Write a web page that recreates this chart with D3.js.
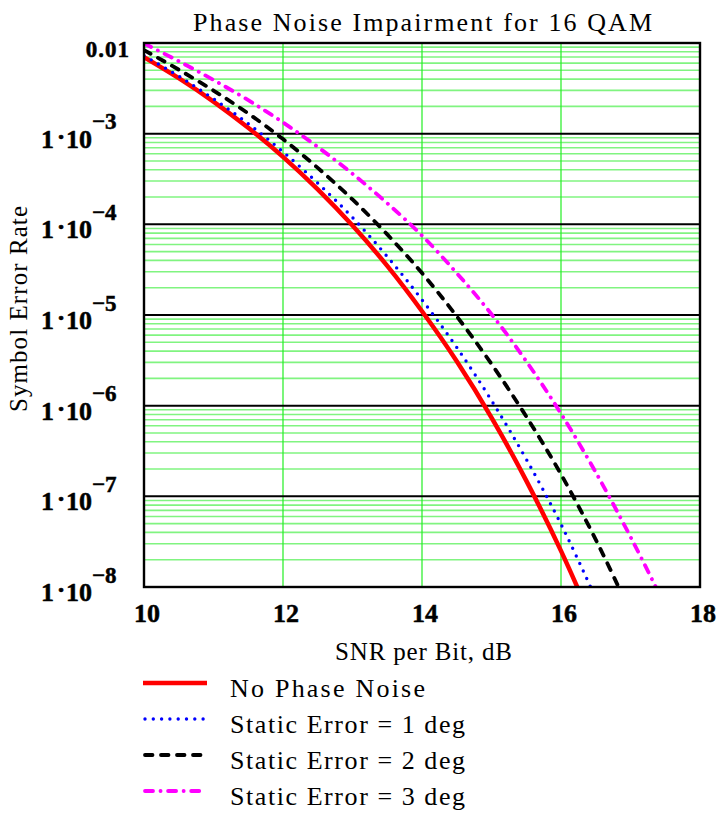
<!DOCTYPE html>
<html>
<head>
<meta charset="utf-8">
<script src="https://cdn.jsdelivr.net/npm/d3@7"></script>
<style>
  body { margin: 0; background: #fff; }
  svg { display: block; }
  text { font-family: "Liberation Serif", "Times New Roman", Times, serif; fill: #000; }
</style>
</head>
<body>
<svg id="chart" width="722" height="814" font-family="Liberation Serif"></svg>
<script>
// SNR per bit (dB) sample points
const snrDb = [10, 10.5, 11, 11.5, 12, 12.5, 13, 13.5, 14, 14.5, 15, 15.5, 16, 16.5, 17, 17.5];

// Symbol error rate for 16 QAM, one array per phase condition
const serNoNoise = [7.0e-3, 4.1e-3, 2.26e-3, 1.16e-3, 5.55e-4, 2.43e-4, 9.7e-5, 3.48e-5, 1.10e-5, 3.09e-6, 7.4e-7, 1.49e-7, 2.5e-8, 3.4e-9];
const serStatic1 = [7.23e-3, 4.31e-3, 2.42e-3, 1.29e-3, 6.30e-4, 2.85e-4, 1.19e-4, 4.41e-5, 1.47e-5, 4.39e-6, 1.14e-6, 2.57e-7, 4.92e-8, 7.5e-9];
const serStatic2 = [8.34e-3, 5.08e-3, 2.99e-3, 1.67e-3, 8.71e-4, 4.19e-4, 1.88e-4, 7.74e-5, 2.90e-5, 9.68e-6, 2.88e-6, 7.60e-7, 1.75e-7, 3.33e-8, 5.2e-9];
const serStatic3 = [9.9e-3, 6.30e-3, 3.91e-3, 2.34e-3, 1.33e-3, 7.13e-4, 3.61e-4, 1.71e-4, 7.52e-5, 2.90e-5, 1.02e-5, 3.09e-6, 8.17e-7, 1.84e-7, 3.57e-8, 6.15e-9];

const seriesNames = ["No Phase Noise", "Static Error = 1 deg", "Static Error = 2 deg", "Static Error = 3 deg"];
const xTickValues = [10, 12, 14, 16, 18];
const yDecadeExponents = [-2, -3, -4, -5, -6, -7, -8];

const title = "Phase Noise Impairment for 16 QAM";
const xTitle = "SNR per Bit, dB";
const yTitle = "Symbol Error Rate";

// ---- layout ----
const plot = { left: 144, right: 700, top: 43, bottom: 587 };
const svg = d3.select("#chart");

const x = d3.scaleLinear().domain([10, 18]).range([plot.left, plot.right]);
const y = d3.scaleLog().domain([1e-8, 1e-2]).range([plot.bottom, plot.top]);

const styles = [
  { color: "#ff0000", width: 4.5, dash: null,             cap: "butt"  },
  { color: "#0000ff", width: 3.4, dash: "0 8.3",          cap: "round" },
  { color: "#000000", width: 3.8, dash: "7.5 8.5",        cap: "round" },
  { color: "#ff00ff", width: 3.8, dash: "8 7.5 0.1 7.5",  cap: "round" }
];
const seriesValues = [serNoNoise, serStatic1, serStatic2, serStatic3];

svg.append("clipPath").attr("id", "plotClip")
  .append("rect")
  .attr("x", plot.left).attr("y", plot.top)
  .attr("width", plot.right - plot.left).attr("height", plot.bottom - plot.top);

// minor horizontal grid (2..9 within each decade)
const minorVals = [];
for (let e = -8; e < -2; e++) {
  for (let m = 2; m <= 9; m++) minorVals.push(m * Math.pow(10, e));
}
svg.append("g").selectAll("line").data(minorVals).join("line")
  .attr("x1", plot.left).attr("x2", plot.right)
  .attr("y1", d => y(d)).attr("y2", d => y(d))
  .attr("stroke", "#80f480").attr("stroke-width", 1.6);

// vertical grid at the inner x ticks
svg.append("g").selectAll("line").data(xTickValues.slice(1, -1)).join("line")
  .attr("x1", d => x(d)).attr("x2", d => x(d))
  .attr("y1", plot.top).attr("y2", plot.bottom)
  .attr("stroke", "#22ee22").attr("stroke-width", 1.2);

// decade lines
svg.append("g").selectAll("line").data(yDecadeExponents.slice(1, -1)).join("line")
  .attr("x1", plot.left).attr("x2", plot.right)
  .attr("y1", d => y(Math.pow(10, d))).attr("y2", d => y(Math.pow(10, d)))
  .attr("stroke", "#000").attr("stroke-width", 2);

// curves
const line = d3.line()
  .x((d, i) => x(snrDb[i]))
  .y(d => y(d))
  .curve(d3.curveMonotoneX);

const curves = svg.append("g").attr("clip-path", "url(#plotClip)");
seriesValues.forEach((vals, k) => {
  const s = styles[k];
  curves.append("path")
    .attr("d", line(vals))
    .attr("fill", "none")
    .attr("stroke", s.color)
    .attr("stroke-width", s.width)
    .attr("stroke-linecap", s.cap)
    .attr("stroke-linejoin", "round")
    .attr("stroke-dasharray", s.dash);
});

// frame
svg.append("rect")
  .attr("x", plot.left).attr("y", plot.top)
  .attr("width", plot.right - plot.left).attr("height", plot.bottom - plot.top)
  .attr("fill", "none").attr("stroke", "#000").attr("stroke-width", 2.4);

// x tick labels
svg.append("g")
  .attr("stroke", "#000").attr("stroke-width", 0.5)
  .selectAll("text").data(xTickValues).join("text")
  .attr("x", d => x(d) + 3).attr("y", 622)
  .attr("text-anchor", "middle")
  .attr("font-size", 26).attr("font-weight", "bold")
  .text(d => d);

// y tick labels
const yLab = svg.append("g").attr("font-weight", "bold")
  .attr("stroke", "#000").attr("stroke-width", 0.5);
yDecadeExponents.forEach(e => {
  const yy = y(Math.pow(10, e));
  if (e === -2) {
    yLab.append("text")
      .attr("x", 130).attr("y", yy + 14)
      .attr("text-anchor", "end")
      .attr("font-size", 23)
      .attr("letter-spacing", 1)
      .text("0.01");
  } else {
    yLab.append("text").attr("x", 54).attr("y", yy + 14).attr("text-anchor", "end")
      .attr("font-size", 26).text("1");
    yLab.append("text").attr("x", 61).attr("y", yy + 11).attr("text-anchor", "middle")
      .attr("font-size", 26).text("\u00B7");
    yLab.append("text").attr("x", 92).attr("y", yy + 14).attr("text-anchor", "end")
      .attr("font-size", 26).text("10");
    yLab.append("text").attr("x", 92).attr("y", yy - 4.5).attr("text-anchor", "start")
      .attr("font-size", 23).text("\u2212" + (-e));
  }
});

// titles
svg.append("text")
  .attr("x", 193).attr("y", 31)
  .attr("font-size", 26)
  .attr("textLength", 459).attr("lengthAdjust", "spacing")
  .text(title);

svg.append("text")
  .attr("x", 335).attr("y", 660)
  .attr("font-size", 25)
  .attr("textLength", 177).attr("lengthAdjust", "spacing")
  .text(xTitle);

svg.append("text")
  .attr("transform", "translate(27,412) rotate(-90)")
  .attr("font-size", 25)
  .attr("textLength", 206).attr("lengthAdjust", "spacing")
  .text(yTitle);

// legend
const legendRows = [683, 719, 755, 791];
const legendTextLen = [195, 235, 235, 235];
const legend = svg.append("g");
seriesNames.forEach((name, k) => {
  const s = styles[k];
  const ly = legendRows[k];
  legend.append("line")
    .attr("x1", k === 0 ? 143 : 145).attr("x2", k === 0 ? 207 : 206)
    .attr("y1", ly).attr("y2", ly)
    .attr("stroke", s.color).attr("stroke-width", s.width)
    .attr("stroke-linecap", s.cap)
    .attr("stroke-dasharray", s.dash);
  legend.append("text")
    .attr("x", 230).attr("y", ly + 14)
    .attr("font-size", 26)
    .attr("textLength", legendTextLen[k]).attr("lengthAdjust", "spacing")
    .text(name);
});
</script>
</body>
</html>
